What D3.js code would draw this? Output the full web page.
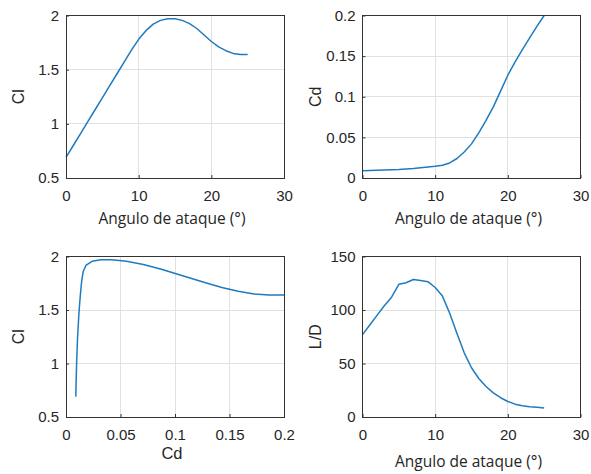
<!DOCTYPE html>
<html>
<head>
<meta charset="utf-8">
<script src="https://cdn.jsdelivr.net/npm/d3@7"></script>
<style>
  html, body { margin: 0; padding: 0; background: #fff; }
  svg { display: block; }
</style>
</head>
<body>
<svg id="chart" width="591" height="474"></svg>
<script>
// Airfoil polar: angle of attack sweep and the resulting coefficients
const alpha = [0, 1, 2, 3, 4, 5, 6, 7, 8, 9, 10, 11, 12, 13, 14, 15, 16, 17, 18, 19, 20, 21, 22, 23, 24, 25];
const cl = [0.69, 0.80, 0.91, 1.02, 1.13, 1.24, 1.35, 1.46, 1.57, 1.68, 1.78, 1.86, 1.92, 1.955, 1.97, 1.97,
            1.955, 1.925, 1.88, 1.82, 1.76, 1.71, 1.675, 1.65, 1.64, 1.64];
const cd = [0.0090, 0.0092, 0.0095, 0.0098, 0.0102, 0.0106, 0.0112, 0.0118, 0.0126, 0.0135, 0.0145, 0.0158,
            0.0185, 0.0240, 0.0320, 0.0420, 0.0555, 0.0710, 0.0875, 0.1070, 0.1265, 0.1430, 0.1580, 0.1725,
            0.1865, 0.2000];
const ld = [77, 86, 95, 104, 112, 124, 125.5, 128.5, 127.5, 126.5, 121, 113, 97, 78, 60, 46, 36, 28.5, 22.5,
            18, 14.5, 12, 10.5, 9.5, 9, 8.5];

// Tick labels for each axis
const alphaTicks = [0, 10, 20, 30];
const clTicks = [0.5, 1, 1.5, 2];
const cdTicks = [0, 0.05, 0.1, 0.15, 0.2];
const ldTicks = [0, 50, 100, 150];

const svg = d3.select("#chart");
const axisColor = "#333333";
const gridColor = "#e1e1e1";
const lineColor = "#1f7bbf";
const tickFont = "Liberation Sans, Arial, sans-serif";
const titleFont = "Open Sans, sans-serif";

function panel(opts) {
  const { x0, x1, y0, y1, xDomain, yDomain, xTicks, yTicks, xs, ys, xTitle, xTitleFont, xTitleSize, yTitle } = opts;
  const x = d3.scaleLinear().domain(xDomain).range([x0, x1]);
  const y = d3.scaleLinear().domain(yDomain).range([y1, y0]);
  const g = svg.append("g");

  // grid
  g.append("g").selectAll("line").data(xTicks).join("line")
    .attr("x1", d => x(d)).attr("x2", d => x(d))
    .attr("y1", y0).attr("y2", y1)
    .attr("stroke", gridColor).attr("stroke-width", 1).attr("shape-rendering", "crispEdges");
  g.append("g").selectAll("line").data(yTicks).join("line")
    .attr("x1", x0).attr("x2", x1)
    .attr("y1", d => y(d)).attr("y2", d => y(d))
    .attr("stroke", gridColor).attr("stroke-width", 1).attr("shape-rendering", "crispEdges");

  // data curve
  const pts = xs.map((v, i) => [v, ys[i]]);
  g.append("path")
    .datum(pts)
    .attr("fill", "none")
    .attr("stroke", lineColor)
    .attr("stroke-width", 1.5)
    .attr("stroke-linejoin", "round")
    .attr("d", d3.line().x(d => x(d[0])).y(d => y(d[1])));

  // axes with inward ticks
  const fmt = d3.format("~g");
  const ax = g.append("g").attr("transform", `translate(0,${y1})`)
    .call(d3.axisBottom(x).tickValues(xTicks).tickFormat(fmt).tickSizeInner(-3).tickSizeOuter(0).tickPadding(12));
  const ay = g.append("g").attr("transform", `translate(${x0},0)`)
    .call(d3.axisLeft(y).tickValues(yTicks).tickFormat(fmt).tickSizeInner(-3).tickSizeOuter(0).tickPadding(7));
  [ax, ay].forEach(a => {
    a.select(".domain").remove();
    a.selectAll(".tick line").attr("stroke", axisColor);
    a.selectAll(".tick text").attr("fill", "#262626").style("font-family", tickFont).style("font-size", "15px");
  });

  // box
  g.append("rect")
    .attr("x", x0).attr("y", y0).attr("width", x1 - x0).attr("height", y1 - y0)
    .attr("fill", "none").attr("stroke", axisColor).attr("stroke-width", 1).attr("shape-rendering", "crispEdges");

  // titles
  g.append("text")
    .attr("x", (x0 + x1) / 2 - 3).attr("y", y1 + opts.xTitleDy)
    .attr("text-anchor", "middle")
    .attr("fill", "#262626")
    .style("font-family", xTitleFont).style("font-size", xTitleSize)
    .text(xTitle);
  g.append("text")
    .attr("transform", `translate(${x0 - 42},${(y0 + y1) / 2}) rotate(-90)`)
    .attr("text-anchor", "middle")
    .attr("fill", "#262626")
    .style("font-family", tickFont).style("font-size", "16px")
    .text(yTitle);
}

const L = [66, 284], R = [362.5, 580.5], T = [15.5, 178], B = [256.5, 417];
const aoa = "Angulo de ataque (°)";

panel({ x0: L[0], x1: L[1], y0: T[0], y1: T[1], xDomain: [0, 30], yDomain: [0.5, 2],
  xTicks: alphaTicks, yTicks: clTicks, xs: alpha, ys: cl,
  xTitle: aoa, xTitleFont: titleFont, xTitleSize: "15.5px", xTitleDy: 46, yTitle: "Cl" });

panel({ x0: R[0], x1: R[1], y0: T[0], y1: T[1], xDomain: [0, 30], yDomain: [0, 0.2],
  xTicks: alphaTicks, yTicks: cdTicks, xs: alpha, ys: cd,
  xTitle: aoa, xTitleFont: titleFont, xTitleSize: "15.5px", xTitleDy: 46, yTitle: "Cd" });

panel({ x0: L[0], x1: L[1], y0: B[0], y1: B[1], xDomain: [0, 0.2], yDomain: [0.5, 2],
  xTicks: cdTicks, yTicks: clTicks, xs: cd, ys: cl,
  xTitle: "Cd", xTitleFont: tickFont, xTitleSize: "16.5px", xTitleDy: 42, yTitle: "Cl" });

panel({ x0: R[0], x1: R[1], y0: B[0], y1: B[1], xDomain: [0, 30], yDomain: [0, 150],
  xTicks: alphaTicks, yTicks: ldTicks, xs: alpha, ys: ld,
  xTitle: aoa, xTitleFont: titleFont, xTitleSize: "15.5px", xTitleDy: 50, yTitle: "L/D" });
</script>
</body>
</html>
